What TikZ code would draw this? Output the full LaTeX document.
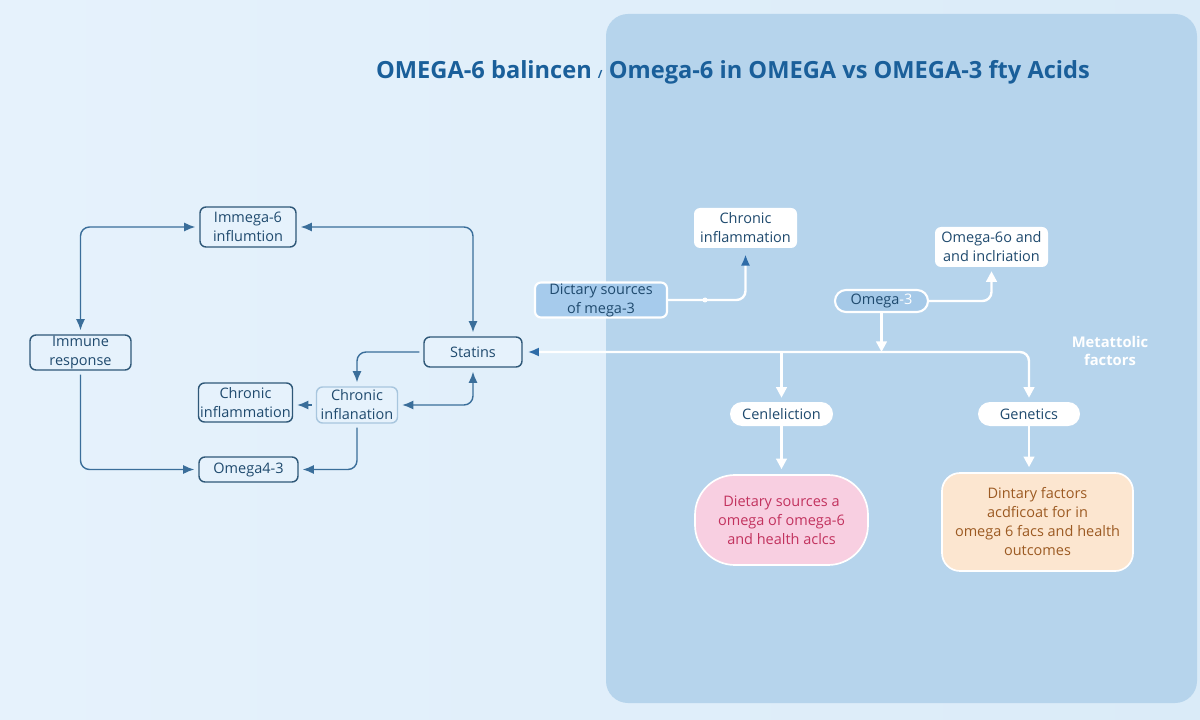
\documentclass[tikz,border=0pt]{standalone}
\usepackage{fontspec}
\setmainfont{Open Sans}
\usetikzlibrary{arrows.meta,calc}
\newlength\pxu \setlength\pxu{0.025cm}
\definecolor{bgL}{HTML}{E6F2FC}
\definecolor{bgR}{HTML}{DAEBF8}
\definecolor{panel}{HTML}{B6D4EC}
\definecolor{lineblue}{HTML}{3A6E9A}
\definecolor{boxline}{HTML}{2F5878}
\definecolor{paleline}{HTML}{A8C6DE}
\definecolor{textblue}{HTML}{1F4A6E}
\definecolor{titleblue}{HTML}{1A5F9A}
\definecolor{tipblue}{HTML}{2E6CA8}
\definecolor{dietfill}{HTML}{A6CBEC}
\definecolor{omfill}{HTML}{A5C9E8}
\definecolor{pinkfill}{HTML}{F8CFE1}
\definecolor{pinktext}{HTML}{C2325E}
\definecolor{peachfill}{HTML}{FCE6D0}
\definecolor{peachtext}{HTML}{9C5A22}
\tikzset{
  bt/.tip={Latex[length=8pt,width=6.5pt]},
  wt/.tip={Triangle[length=7.5pt,width=7.5pt,fill=white,color=white]},
  btip/.tip={Latex[length=8pt,width=6.5pt,color=tipblue]}
}
\begin{document}
\begin{tikzpicture}[x=0.025cm,y=-0.025cm,
  txt/.style={font=\fontsize{10.3}{13.5}\selectfont, align=center, inner sep=0pt},
  lbox/.style={txt, draw=boxline, fill=bgL, line width=1pt, rounded corners=6\pxu, text=textblue},
  lboxpale/.style={txt, draw=paleline, fill=bgL, line width=1pt, rounded corners=6\pxu, text=textblue},
  larrow/.style={draw=lineblue, line width=1pt, rounded corners=9\pxu, shorten >=4\pxu, shorten <=4\pxu},
  wline/.style={draw=white, line width=1.7pt, rounded corners=9\pxu},
  wbox/.style={txt, fill=white, rounded corners=6\pxu, text=textblue},
  wpill/.style={txt, fill=white, rounded corners=12\pxu, text=textblue}
]
\useasboundingbox (0,0) rectangle (1200,720);
\shade[left color=bgL, right color=bgR] (0,0) rectangle (1200,720);
\fill[panel, rounded corners=22\pxu] (606,14) rectangle (1197,703);

% title
\node[font=\bfseries\fontsize{16.8}{20}\selectfont, text=titleblue, inner sep=0pt] (title) at (733,72)
  {OMEGA-6 balincen {\fontsize{8}{10}\selectfont/} Omega-6 in OMEGA vs OMEGA-3 fty Acids};

% left nodes
\node[lbox, minimum width=96\pxu, minimum height=40\pxu] (imm6) at (248,227) {Immega-6\\influmtion};
\node[lbox, minimum width=101\pxu, minimum height=35\pxu] (immune) at (80.5,352.5) {Immune\\response};
\node[lbox, minimum width=98\pxu, minimum height=30\pxu] (statins) at (473,352) {Statins};
\node[lbox, minimum width=94\pxu, minimum height=39\pxu] (chrL) at (245.5,402.5) {Chronic\\inflammation};
\node[lboxpale, minimum width=81\pxu, minimum height=36\pxu] (chrM) at (357,405) {Chronic\\inflanation};
\node[lbox, minimum width=99\pxu, minimum height=25\pxu] (om43) at (248.5,469.5) {Omega4-3};

% left connectors
\draw[larrow, bt-bt] (immune.north) |- (imm6.west);
\draw[larrow, bt-bt] (imm6.east) -| (statins.north);
\draw[larrow, -bt] (statins.west) -| (chrM.north);
\draw[larrow, bt-bt] (statins.south) |- (chrM.east);
\draw[larrow, -bt] (chrM.west) -- (chrM.west -| chrL.east);
\draw[larrow, -bt] (chrM.south) |- (om43.east);
\draw[larrow, -bt] (immune.south) |- (om43.west);

% right nodes
\node[txt, fill=dietfill, draw=white, line width=1.5pt, rounded corners=6\pxu, text=textblue,
      minimum width=132\pxu, minimum height=35\pxu] (diet) at (601,300) {Dictary sources\\of mega-3};
\node[wbox, minimum width=103\pxu, minimum height=40\pxu] (chrT) at (745.5,228) {Chronic\\inflammation};
\node[wbox, minimum width=113\pxu, minimum height=40\pxu] (om6and) at (991.5,247) {Omega-6o and\\and inclriation};
\node[txt, fill=omfill, draw=white, line width=1.5pt, rounded corners=11\pxu, text=textblue,
      minimum width=93\pxu, minimum height=22\pxu] (omega) at (881.5,301) {Omega\textcolor{white}{-3}};
\node[txt, text=white, font=\bfseries\fontsize{10.5}{13}\selectfont] (meta) at (1110,351) {Metattolic\\factors};
\node[wpill, minimum width=103\pxu, minimum height=24\pxu] (cenl) at (781.5,414) {Cenleliction};
\node[wpill, minimum width=102\pxu, minimum height=24\pxu] (gen) at (1029,414) {Genetics};
\node[txt, fill=pinkfill, draw=white, line width=1.2pt, rounded corners=40\pxu, text=pinktext,
      minimum width=173\pxu, minimum height=90\pxu] (pink) at (781.5,520)
      {Dietary sources a\\omega of omega-6\\and health aclcs};
\node[txt, fill=peachfill, draw=white, line width=1.2pt, rounded corners=18\pxu, text=peachtext,
      minimum width=191\pxu, minimum height=98\pxu] (peach) at (1037.5,522)
      {Dintary factors\\acdficoat for in\\omega 6 facs and health\\outcomes};

% right connectors
\draw[wline, -btip, shorten >=6\pxu] (diet.east) -| (chrT.south);
\fill[white] (705,300) circle (2.5);
\draw[wline, btip-wt, shorten <=5\pxu, shorten >=4\pxu] (statins.east) -| (gen.north);
\coordinate (j1) at (cenl.north |- statins.east);
\draw[wline, -wt, shorten >=4\pxu] (j1) -- (cenl.north);
\draw[wline, -wt] (omega.south) -- (omega.south |- statins.east);
\draw[wline, -wt, shorten >=4\pxu] (omega.east) -| (om6and.south);
\draw[wline, -wt, shorten >=5\pxu] (cenl.south) -- (pink.north);
\draw[wline, -wt, shorten >=5\pxu] (gen.south) -- (gen.south |- peach.north);
\end{tikzpicture}
\end{document}
